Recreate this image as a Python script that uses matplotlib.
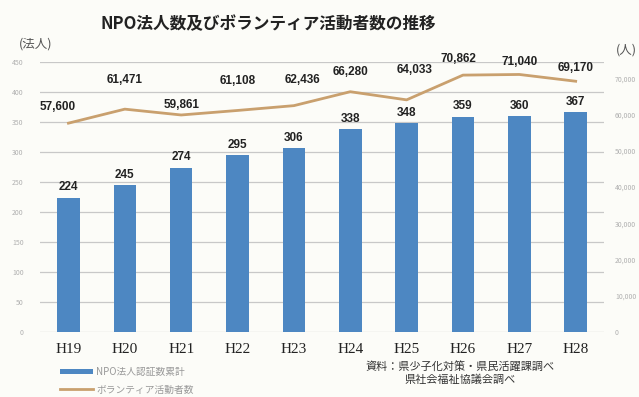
import matplotlib.pyplot as plt
import numpy as np

plt.rcParams['font.family'] = ['Noto Sans CJK JP', 'DejaVu Sans']

years = ['H19', 'H20', 'H21', 'H22', 'H23', 'H24', 'H25', 'H26', 'H27', 'H28']
npo_count = [224, 245, 274, 295, 306, 338, 348, 359, 360, 367]
volunteers = [57600, 61471, 59861, 61108, 62436, 66280, 64033, 70862, 71040, 69170]

# label offsets (points) for the volunteer values
vol_offsets = [(-8, 7), (0, 17), (0, 3), (0, 17), (6, 14), (0, 10), (6, 17), (-3, 7), (0, 5), (0, 5)]

bar_color = '#4d87c2'
line_color = '#c9a06e'
num_font = ['Liberation Sans', 'DejaVu Sans']

fig = plt.figure(figsize=(6.39, 3.97), dpi=100, facecolor='#fcfcf8')
ax = fig.add_axes([0.063, 0.164, 0.882, 0.68])
ax.set_facecolor('#fcfcf8')

x = np.arange(len(years))
bars = ax.bar(x, npo_count, width=0.4, color=bar_color, zorder=2,
              label='NPO法人認証数累計')
for xi, v in zip(x, npo_count):
    ax.annotate(str(v), (xi, v), xytext=(0, 3), textcoords='offset points',
                ha='center', va='bottom', fontsize=8.5, fontweight='bold',
                color='#222222', family=num_font)

ax.set_xlim(-0.5, len(years) - 0.5)
ax.set_ylim(0, 450)
ax.set_yticks(np.arange(0, 451, 50))
ax.grid(axis='y', color='#c8c8c8', linewidth=0.9, zorder=0)
ax.tick_params(axis='y', length=0, labelsize=5, labelcolor='#b0b0b0', pad=12)
ax.tick_params(axis='x', length=0, pad=8)
ax.set_xticks(x)
ax.set_xticklabels(years, fontsize=11, family='Liberation Serif', color='#222222')
for s in ax.spines.values():
    s.set_visible(False)

ax2 = ax.twinx()
ax2.plot(x, volunteers, color=line_color, linewidth=2, zorder=3,
         label='ボランティア活動者数')
for xi, v, off in zip(x, volunteers, vol_offsets):
    ax2.annotate(f'{v:,}', (xi, v), xytext=off, textcoords='offset points',
                 ha='center', va='bottom', fontsize=8.5, fontweight='bold',
                 color='#222222', family=num_font)
ax2.set_ylim(0, 74500)
ax2.set_yticks(np.arange(0, 70001, 10000))
ax2.set_yticklabels([f'{t:,}' for t in range(0, 70001, 10000)])
ax2.tick_params(axis='y', length=0, labelsize=5, labelcolor='#b0b0b0', pad=8)
for s in ax2.spines.values():
    s.set_visible(False)

fig.text(0.42, 0.94, 'NPO法人数及びボランティア活動者数の推移', ha='center', va='center',
         fontsize=12, fontweight='bold', color='#222222')
fig.text(0.055, 0.89, '(法人)', ha='center', va='center', fontsize=9, color='#555555')
fig.text(0.98, 0.875, '(人)', ha='center', va='center', fontsize=9, color='#555555')

fig.text(0.72, 0.06, '資料：県少子化対策・県民活躍課調べ\n県社会福祉協議会調べ',
         ha='center', va='center', fontsize=8, color='#333333', linespacing=1.25)

handles = [bars, ax2.get_lines()[0]]
fig.legend(handles, [h.get_label() for h in handles], loc='upper left',
           bbox_to_anchor=(0.088, 0.085), frameon=False, fontsize=7,
           labelcolor='#999999', handlelength=3.4, handleheight=0.5,
           labelspacing=0.75, borderaxespad=0, handletextpad=0.3)

fig.savefig('out.png', dpi=100, facecolor=fig.get_facecolor())
